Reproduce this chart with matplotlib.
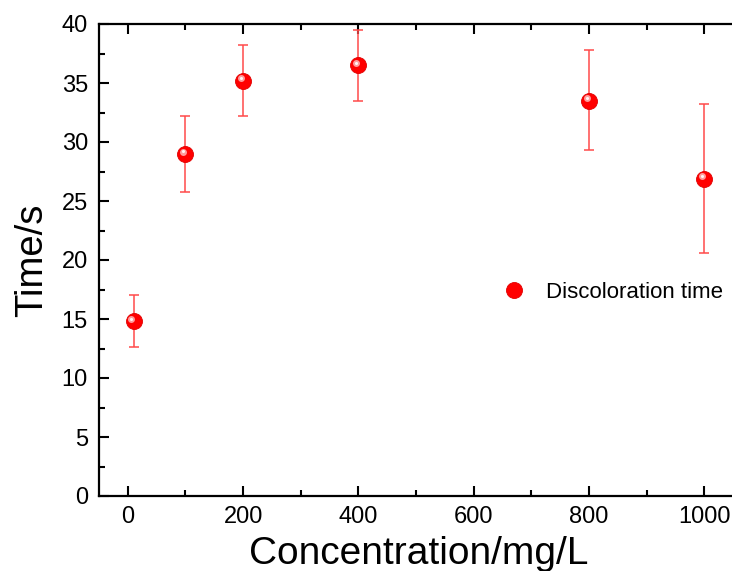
import numpy as np
import matplotlib
matplotlib.use("Agg")
import matplotlib.pyplot as plt
from matplotlib.ticker import MultipleLocator
from matplotlib.transforms import offset_copy

# Дані з графіка
concentration = [10, 100, 200, 400, 800, 1000]
time_s = [14.8, 29.0, 35.2, 36.5, 33.5, 26.9]
time_err_low = [2.2, 3.2, 3.0, 3.0, 4.2, 6.3]
time_err_high = [2.2, 3.2, 3.0, 3.0, 4.3, 6.3]
series_label = "Discoloration time"

plt.rcParams['font.family'] = ['Liberation Sans', 'DejaVu Sans']

fig = plt.figure(figsize=(7.32, 5.71), dpi=100)
ax = fig.add_axes([99 / 732, 75 / 571, 640 / 732, 472 / 571])

ax.errorbar(concentration, time_s, yerr=[time_err_low, time_err_high],
            fmt="none", ecolor="#ff4a4a", elinewidth=1.1, capsize=3.8, capthick=1.1,
            zorder=2)
ax.plot(concentration, time_s, "o", color="#ff0000", markersize=11.5,
        markeredgecolor="#e00000", markeredgewidth=0.6, zorder=3,
        label=series_label)
# блік на "кульці"
hl = offset_copy(ax.transData, fig=fig, x=-1.6, y=1.6, units="points")
ax.plot(concentration, time_s, "o", color="#ffb8b8", markersize=5,
        markeredgewidth=0, alpha=0.85, transform=hl, zorder=4)
hl2 = offset_copy(ax.transData, fig=fig, x=-1.8, y=1.8, units="points")
ax.plot(concentration, time_s, "o", color="#ffffff", markersize=2.2,
        markeredgewidth=0, alpha=0.9, transform=hl2, zorder=5)

ax.set_xlim(-50, 1060)
ax.set_ylim(0, 40)
ax.xaxis.set_major_locator(MultipleLocator(200))
ax.xaxis.set_minor_locator(MultipleLocator(100))
ax.yaxis.set_major_locator(MultipleLocator(5))
ax.yaxis.set_minor_locator(MultipleLocator(2.5))

for s in ax.spines.values():
    s.set_linewidth(1.6)
ax.spines["right"].set_visible(False)
ax.tick_params(which="both", direction="in", top=True, right=False, width=1.5)
ax.tick_params(which="major", length=7, labelsize=17)
ax.tick_params(axis="y", which="major", pad=8)
ax.tick_params(axis="x", which="major", pad=7)
ax.tick_params(which="minor", length=4)

ax.set_xlabel("Concentration/mg/L", fontsize=28, labelpad=6)
ax.set_ylabel("Time/s", fontsize=27.5, labelpad=8)

ax.legend(loc="center left", bbox_to_anchor=(502.6 / 732, 1 - 292 / 571),
          bbox_transform=fig.transFigure, frameon=False, fontsize=16,
          handlelength=1.0, handletextpad=0.95, borderpad=0, borderaxespad=0)

fig.savefig("out.png", dpi=100)
